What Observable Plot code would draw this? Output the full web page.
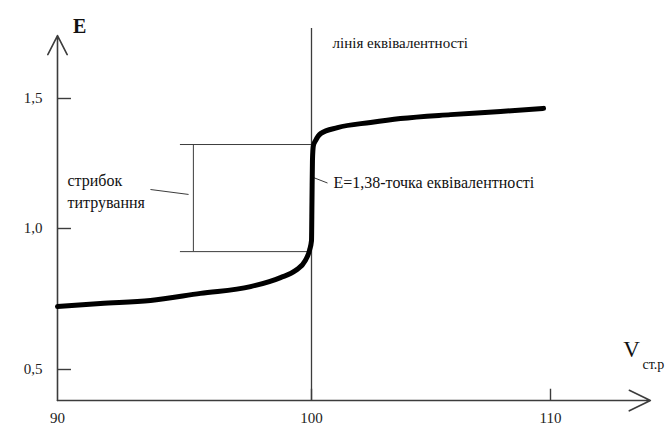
<!DOCTYPE html>
<html>
<head>
<meta charset="utf-8">
<script src="https://cdn.jsdelivr.net/npm/d3@7"></script>
<script src="https://cdn.jsdelivr.net/npm/@observablehq/plot@0.6"></script>
<style>
  html, body { margin: 0; padding: 0; background: #fff; }
  #chart svg { display: block; }
  #chart svg text { font-family: "Liberation Serif", "Times New Roman", serif !important; }
</style>
</head>
<body>
<div id="chart"></div>
<script>
// Titration curve: titrant volume (V) vs potential (E)
const volume = [90, 91.69, 93.66, 95.63, 97.6, 98.78, 99.37, 99.76, 99.92, 100, 100.02, 100.04, 100.08, 100.17, 100.38, 101.09, 102.47, 103.72, 105.82, 107.91, 109.71];
const potential = [0.723, 0.734, 0.745, 0.77, 0.794, 0.826, 0.851, 0.887, 0.922, 0.957, 1.108, 1.262, 1.319, 1.338, 1.365, 1.388, 1.408, 1.423, 1.438, 1.45, 1.462];

// Axes
const xTicks = [90, 100, 110];
const xTickLabels = ["90", "100", "110"];
const yTicks = [0.5, 1.0, 1.5];
const yTickLabels = ["0,5", "1,0", "1,5"];
const xAxisEnd = 114.18;
const yAxisBase = 0.39;
const yAxisEnd = 1.742;

// Equivalence point & titration jump
const equivalenceV = 100;
const equivalenceTop = 1.769;
const jumpTop = 1.323;
const jumpBottom = 0.918;
const jumpStart = 94.84;
const jumpBracketV = 95.35;

// Annotations (anchor in data units)
const annotations = [
  {text: "E", x: 90.87, y: 1.777, size: 20, anchor: "middle", weight: "bold"},
  {text: "лінія еквівалентності", x: 100.88, y: 1.712, size: 15, anchor: "start", weight: "normal"},
  {text: "E=1,38-точка еквівалентності", x: 100.92, y: 1.177, size: 16, anchor: "start", weight: "normal"},
  {text: "стрибок", x: 90.39, y: 1.185, size: 16, anchor: "start", weight: "normal"},
  {text: "титрування", x: 90.39, y: 1.1, size: 16, anchor: "start", weight: "normal"},
  {text: "V", x: 113.39, y: 0.571, size: 23, anchor: "middle", weight: "normal"},
  {text: "ст.р", x: 113.85, y: 0.518, size: 14, anchor: "start", weight: "normal"}
];
const leaders = [
  {x1: 93.66, y1: 1.15, x2: 95.16, y2: 1.131},
  {x1: 100.08, y1: 1.196, x2: 100.67, y2: 1.175}
];

const curve = volume.map((v, i) => ({v, e: potential[i]}));
const axisColor = "#3c3c3c";
const serif = "Liberation Serif";

const chart = Plot.plot({
  width: 670,
  height: 425,
  margin: 0,
  style: {background: "#fff", color: "#111"},
  x: {type: "linear", domain: [90, 100, 110], range: [57, 311, 550], axis: null},
  y: {type: "linear", domain: [0.5, 1.0, 1.5], range: [369, 228, 98], axis: null},
  marks: [
    // axes with arrows
    Plot.arrow([{x1: 90, y1: yAxisBase, x2: xAxisEnd, y2: yAxisBase}], {x1: "x1", y1: "y1", x2: "x2", y2: "y2", stroke: axisColor, strokeWidth: 1.6, headLength: 22, headAngle: 52}),
    Plot.arrow([{x1: 90, y1: yAxisBase, x2: 90, y2: yAxisEnd}], {x1: "x1", y1: "y1", x2: "x2", y2: "y2", stroke: axisColor, strokeWidth: 1.6, headLength: 20, headAngle: 54}),
    // y ticks
    Plot.ruleY(yTicks, {y: d => d, x1: 90, x2: 90.55, stroke: axisColor, strokeWidth: 1.4}),
    Plot.text(yTicks, {x: 89.41, y: d => d, text: (d, i) => yTickLabels[i], textAnchor: "end", fontSize: 15, fontFamily: serif, fill: "#222"}),
    // x ticks
    Plot.ruleX(xTicks.slice(1), {x: d => d, y1: yAxisBase, y2: 0.43, stroke: axisColor, strokeWidth: 1.4}),
    Plot.text(xTicks, {x: d => d, y: yAxisBase, dy: 18, text: (d, i) => xTickLabels[i], textAnchor: "middle", fontSize: 15, fontFamily: serif, fill: "#222"}),
    // equivalence line
    Plot.ruleX([equivalenceV], {x: d => d, y1: yAxisBase, y2: equivalenceTop, stroke: axisColor, strokeWidth: 1.3}),
    // titration jump bracket
    Plot.ruleY([jumpTop, jumpBottom], {y: d => d, x1: jumpStart, x2: equivalenceV, stroke: axisColor, strokeWidth: 1}),
    Plot.ruleX([jumpBracketV], {x: d => d, y1: jumpBottom, y2: jumpTop, stroke: axisColor, strokeWidth: 1}),
    // leader lines
    Plot.link(leaders, {x1: "x1", y1: "y1", x2: "x2", y2: "y2", stroke: axisColor, strokeWidth: 1}),
    // titration curve
    Plot.line(curve, {x: "v", y: "e", curve: "monotone-x", stroke: "#000", strokeWidth: 5, strokeLinecap: "round"}),
    // annotations
    ...annotations.map(a => Plot.text([a], {x: "x", y: "y", text: "text", fontSize: a.size, fontWeight: a.weight, fontFamily: serif, textAnchor: a.anchor, fill: "#111"}))
  ]
});
document.getElementById("chart").appendChild(chart);
</script>
</body>
</html>
